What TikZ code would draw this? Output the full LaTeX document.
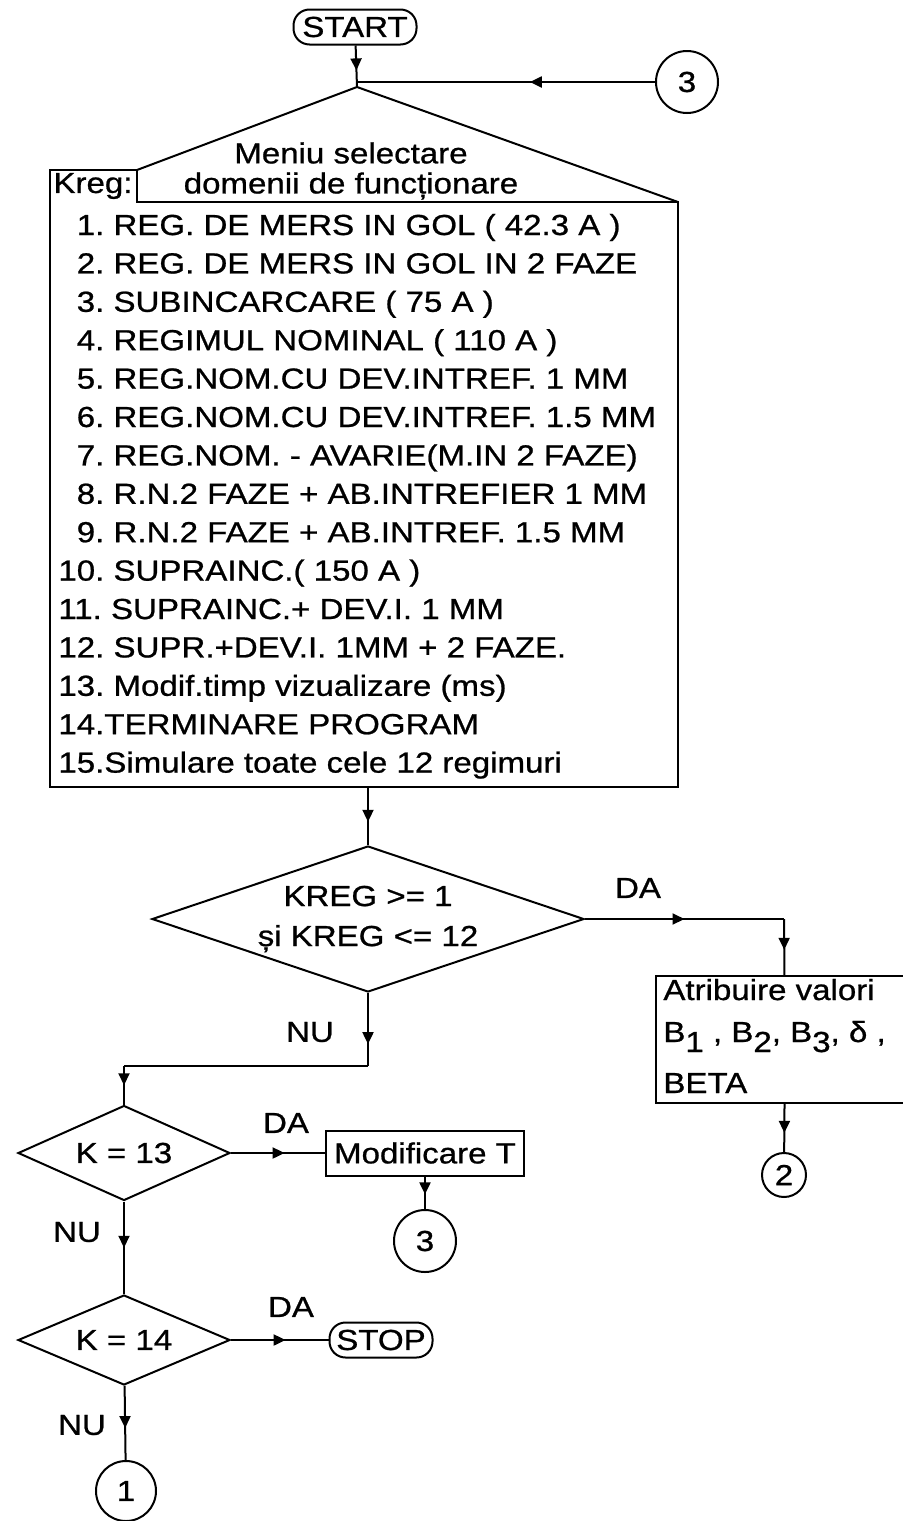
\documentclass[tikz,border=0pt]{standalone}
\usepackage{fontspec}
\setmainfont{Liberation Sans}[FakeStretch=1.14,FakeBold=0.8]
\usetikzlibrary{positioning,shapes.geometric,arrows.meta,decorations.markings}

\newcommand{\lowidx}[1]{\raisebox{-5pt}{#1}}

\tikzset{
  wire/.style={line width=1pt},
  flow/.style={line width=1pt,postaction={decorate},
    decoration={markings,mark=at position #1 with {\arrow{Triangle[length=6pt,width=5.5pt]}}}},
  flow/.default=0.55,
  term/.style={draw,line width=1pt,rounded corners=8pt,inner sep=0pt,minimum height=17.5pt},
  proc/.style={draw,line width=1pt,inner sep=0pt},
  dec/.style={draw,diamond,line width=1pt,inner sep=0pt,align=center},
  conn/.style={draw,circle,line width=1pt,inner sep=0pt},
  item/.style={anchor=base west,inner sep=0pt},
  lbl/.style={inner sep=0pt}
}

\begin{document}
\frenchspacing
\begin{tikzpicture}[x=0.5pt,y=-0.5pt,font=\fontsize{14.5pt}{18pt}\selectfont]
  \useasboundingbox (0,0) rectangle (903,1521);
  \clip (0,0) rectangle (903,1521);

  % start and re-entry
  \node[term,minimum width=61.5pt] (start) at (355,27) {START};
  \coordinate (jn) at (357,82);
  \coordinate (apex) at (357,87);
  \node[conn,minimum size=31pt] (c3top) at (687,82) {3};

  % menu block
  \draw[wire] (50,787) -- (50,170) -- (137,170) -- (137,202) -- (678,202) -- (678,787) -- cycle;
  \draw[wire] (137,170) -- (apex) -- (678,202);
  \node[lbl] (kreg) at (93,186) {Kreg:};
  \node[lbl] (title1) at (351,153) {Meniu selectare};
  \node[lbl] (title2) at (351,186) {domenii de funcționare};
  \node[item] (it1) at (58,235) {\phantom{1}1. REG. DE MERS IN GOL ( 42.3 A )};
  \node[item] (it2) at (58,273.4) {\phantom{1}2. REG. DE MERS IN GOL IN 2 FAZE};
  \node[item] (it3) at (58,311.8) {\phantom{1}3. SUBINCARCARE ( 75 A )};
  \node[item] (it4) at (58,350.2) {\phantom{1}4. REGIMUL NOMINAL ( 110 A )};
  \node[item] (it5) at (58,388.6) {\phantom{1}5. REG.NOM.CU DEV.INTREF. 1 MM};
  \node[item] (it6) at (58,427) {\phantom{1}6. REG.NOM.CU DEV.INTREF. 1.5 MM};
  \node[item] (it7) at (58,465.4) {\phantom{1}7. REG.NOM. - AVARIE(M.IN 2 FAZE)};
  \node[item] (it8) at (58,503.8) {\phantom{1}8. R.N.2 FAZE + AB.INTREFIER 1 MM};
  \node[item] (it9) at (58,542.2) {\phantom{1}9. R.N.2 FAZE + AB.INTREF. 1.5 MM};
  \node[item] (it10) at (58,580.6) {10. SUPRAINC.( 150 A )};
  \node[item] (it11) at (58,619) {11. SUPRAINC.+ DEV.I. 1 MM};
  \node[item] (it12) at (58,657.4) {12. SUPR.+DEV.I. 1MM + 2 FAZE.};
  \node[item] (it13) at (58,695.8) {13. Modif.timp vizualizare (ms)};
  \node[item] (it14) at (58,734.2) {14.TERMINARE PROGRAM};
  \node[item] (it15) at (58,772.6) {15.Simulare toate cele 12 regimuri};
  \coordinate (mbot) at (368,787);

  % range test
  \node[dec,aspect=2.96,minimum width=216pt,minimum height=73pt] (d1) at (368,919)
        {KREG >= 1\\[2pt] și KREG <= 12};
  \coordinate (r1) at (784,919);
  \node[proc,anchor=north west,minimum width=129pt,minimum height=63.5pt] (atr) at (655,975) {};
  \node[lbl,anchor=base west] (atrl1) at (663,1000) {Atribuire valori};
  \node[lbl,anchor=base west] (atrl2) at (663,1042)
        {B\lowidx{1} , B\lowidx{2}, B\lowidx{3}, δ ,};
  \node[lbl,anchor=base west] (atrl3) at (663,1093) {BETA};
  \node[conn,minimum size=22pt] (c2) at (784,1175) {2};
  \node[lbl] (da1) at (638,888) {DA};
  \node[lbl] (nu1) at (310,1032) {NU};
  \coordinate (nj) at (368,1066);
  \coordinate (lj) at (124,1066);

  % K = 13
  \node[dec,aspect=2.23,minimum width=106pt,minimum height=47.5pt] (k13) at (124,1153) {K = 13};
  \node[proc,minimum width=99pt,minimum height=22.5pt] (mod) at (425,1153) {Modificare T};
  \node[conn,minimum size=31pt] (c3b) at (425,1241) {3};
  \node[lbl] (da2) at (286,1123) {DA};
  \node[lbl] (nu2) at (77,1232) {NU};

  % K = 14
  \node[dec,aspect=2.36,minimum width=106pt,minimum height=45pt] (k14) at (124,1340) {K = 14};
  \node[term,minimum width=51.5pt] (stop) at (381,1340) {STOP};
  \node[conn,minimum size=30pt] (c1) at (126,1491) {1};
  \node[lbl] (da3) at (291,1307) {DA};
  \node[lbl] (nu3) at (82,1425) {NU};

  % connectors
  \draw[flow=0.6] (start) -- (apex);
  \draw[flow=0.42] (c3top) -- (jn);
  \draw[flow=0.6] (mbot) -- (d1);
  \draw[flow=0.5] (d1.east) -- (r1);
  \draw[flow=0.55] (r1) -- (atr);
  \draw[flow=0.6] (atr) -- (c2);
  \draw[flow=0.7] (d1.south) -- (nj);
  \draw[wire] (nj) -- (lj);
  \draw[flow=0.5] (lj) -- (k13);
  \draw[flow=0.57] (k13) -- (mod);
  \draw[flow=0.55] (mod) -- (c3b);
  \draw[flow=0.5] (k13) -- (k14);
  \draw[flow=0.56] (k14) -- (stop);
  \draw[flow=0.57] (k14) -- (c1);
\end{tikzpicture}
\end{document}
